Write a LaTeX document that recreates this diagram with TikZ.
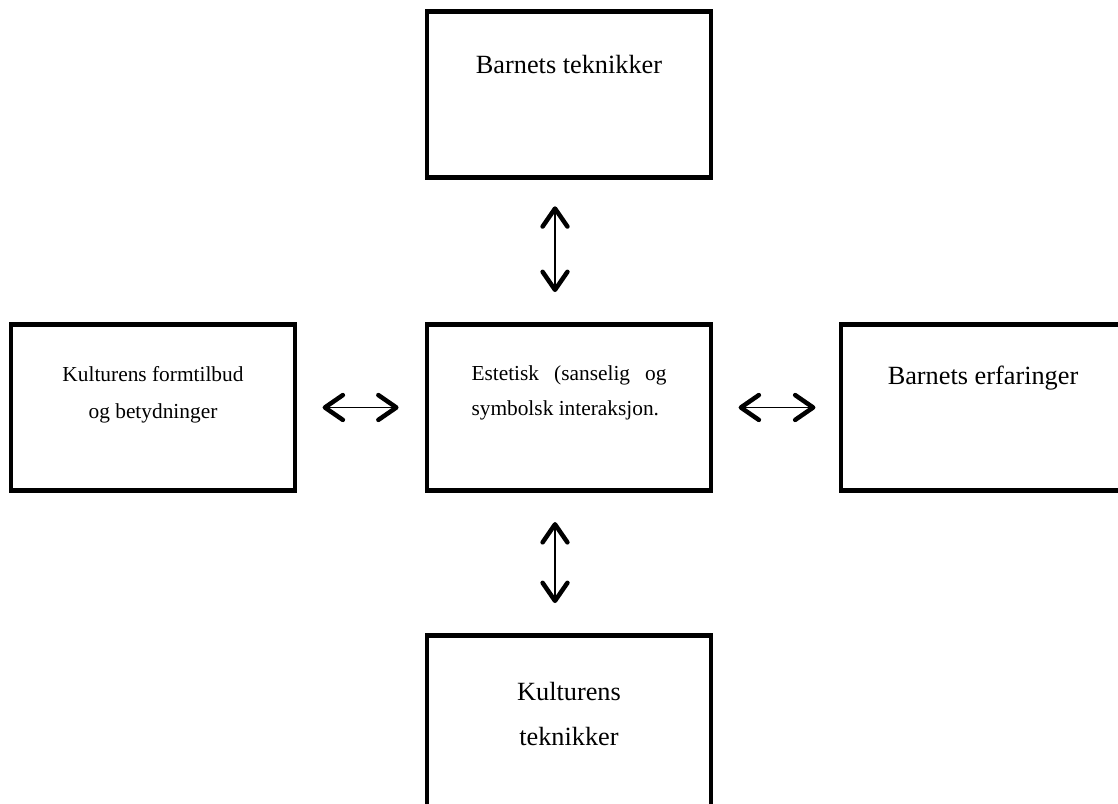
\documentclass[tikz,border=0pt]{standalone}
\usepackage{fontspec}
\setmainfont{Liberation Serif}
\usetikzlibrary{positioning,arrows.meta}

\begin{document}
\begin{tikzpicture}[
        box/.style={rectangle, draw=black, line width=3.5pt, outer sep=0pt, minimum width=7.1cm, minimum height=4.15cm},
        lbl/.style={inner sep=0pt, outer sep=0pt, anchor=north, align=center},
        big/.style={font=\fontsize{18.7}{32}\selectfont},
        small/.style={font=\fontsize{15.2}{24.5}\selectfont},
        arr/.style={<->, >={Straight Barb[length=0.45cm, width=0.62cm, line width=3.2pt, round]}, line width=1.1pt}
    ]
    \useasboundingbox (0,0) rectangle (27.95,20.1);
    \clip (0,0) rectangle (27.95,20.1);

    \node[box] (centre) at (14.225,9.9125) {};
    \node[box, above=3.675cm of centre] (top)   {};
    \node[box, left=3.3cm of centre]    (left)  {};
    \node[box, right=3.25cm of centre]  (right) {};
    \node[box, below=3.625cm of centre, minimum height=4.4cm] (bot) {};

    \node[lbl, big, below=1.09cm of top.north]     (topText)   {Barnets teknikker};
    \node[lbl, small, below=1.04cm of left.north, font=\fontsize{15.2}{26.3}\selectfont] (leftText) {Kulturens formtilbud\\og betydninger};
    \node[lbl, small, align=left, below=1.04cm of centre.north] (centreText) {\makebox[4.875cm][s]{Estetisk (sanselig og}\\symbolsk interaksjon.};
    \node[lbl, big, below=1.04cm of right.north]   (rightText) {Barnets erfaringer};
    \node[lbl, big, below=1.16cm of bot.north]     (botText)   {Kulturens\\teknikker};

    \draw[arr, shorten <=0.72cm, shorten >=0.81cm] ([xshift=-0.35cm]top.south) -- ([xshift=-0.35cm]centre.north);
    \draw[arr, shorten <=0.79cm, shorten >=0.81cm] ([xshift=-0.35cm]centre.south) -- ([xshift=-0.35cm]bot.north);
    \draw[arr, shorten <=0.69cm, shorten >=0.71cm] (left.east) -- (centre.west);
    \draw[arr, shorten <=0.69cm, shorten >=0.64cm] (centre.east) -- (right.west);
\end{tikzpicture}
\end{document}
